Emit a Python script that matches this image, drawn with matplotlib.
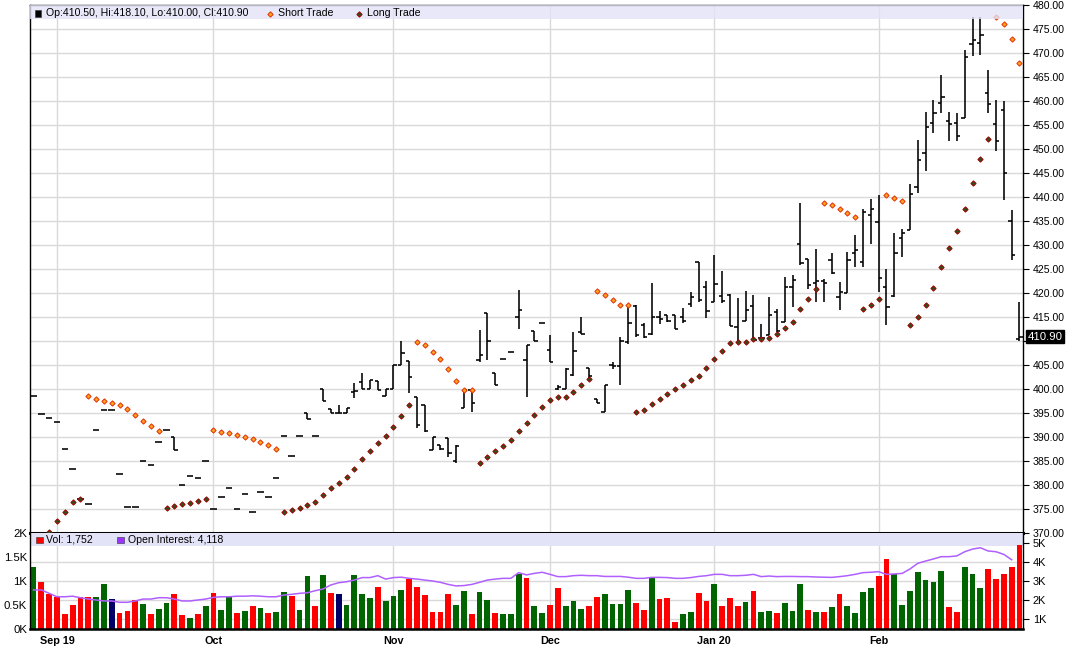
import numpy as np
import matplotlib
matplotlib.use("Agg")
import matplotlib.pyplot as plt
from matplotlib.patches import Rectangle
from matplotlib.lines import Line2D

plt.rcParams['font.family'] = ['Liberation Sans', 'DejaVu Sans']

# ---------------- data ----------------
month_labels = ["Sep 19", "Oct", "Nov", "Dec", "Jan 20", "Feb"]
month_start_idx = [3, 23, 46, 66, 87, 108]

opens = [398.5, 394.7, 394.0, 393.1, 387.4, 383.3, 377.0, 376.1, 391.5, 395.6,
         395.6, 382.3, 375.5, 375.4, 385.1, 384.2, 388.9, 391.5, 390.1, 380.1,
         381.9, 381.5, 385.1, 375.1, 377.5, 379.3, 375.1, 378.1, 374.3, 378.5,
         377.5, 381.5, 390.3, 386.0, 390.3, 394.9, 390.3, 399.9, 395.8, 395.1,
         395.1, 399.3, 401.5, 400.0, 401.7, 398.5, 399.9, 405.0, 405.8, 398.4,
         396.7, 387.3, 388.3, 389.7, 384.9, 396.0, 399.8, 406.0, 415.9, 403.3,
         406.2, 407.7, 415.1, 406.0, 412.1, 413.7, 408.1, 399.9, 400.1, 402.9,
         411.9, 404.3, 398.0, 395.3, 405.0, 404.7, 409.7, 417.3, 413.4, 411.4,
         414.9, 415.4, 415.4, 414.9, 417.7, 426.4, 421.3, 418.2, 419.4, 419.6,
         413.0, 414.2, 417.3, 410.6, 411.2, 416.1, 414.0, 421.3, 430.2, 427.0,
         422.0, 422.4, 426.9, 419.2, 419.9, 428.3, 426.5, 436.2, 434.8, 421.3,
         419.4, 431.4, 433.1, 442.1, 449.1, 455.5, 459.6, 455.9, 455.4, 456.4,
         471.8, 472.0, 461.6, 455.2, 458.1, 434.9, 410.5]
highs = [398.5, 394.7, 394.0, 393.1, 387.4, 383.3, 377.0, 376.1, 391.5, 395.6,
         395.6, 382.3, 375.5, 375.4, 385.1, 384.2, 388.9, 391.5, 390.1, 380.1,
         381.9, 381.5, 385.1, 375.1, 377.5, 379.3, 375.1, 378.1, 374.3, 378.5,
         377.5, 381.5, 390.3, 386.0, 390.3, 394.9, 390.3, 399.9, 395.8, 396.7,
         396.0, 401.2, 403.4, 401.9, 401.7, 400.1, 405.0, 409.9, 405.8, 398.4,
         396.7, 390.1, 388.3, 389.7, 388.3, 399.8, 399.8, 412.3, 415.9, 403.3,
         406.2, 407.7, 420.6, 409.2, 412.1, 413.7, 411.3, 400.8, 404.3, 411.9,
         415.1, 404.3, 398.0, 400.8, 405.7, 410.9, 417.8, 417.5, 413.7, 422.0,
         416.3, 415.4, 415.4, 416.8, 420.3, 426.5, 422.4, 428.0, 424.6, 419.7,
         418.9, 420.4, 419.6, 413.5, 419.2, 416.6, 423.4, 423.8, 438.7, 427.0,
         429.1, 423.0, 428.4, 422.2, 428.6, 432.0, 437.5, 439.6, 440.4, 425.1,
         432.4, 433.3, 442.8, 451.9, 457.8, 460.2, 465.4, 457.8, 457.6, 470.6,
         477.4, 477.4, 466.5, 460.2, 459.9, 437.3, 418.1]
lows = [398.5, 394.7, 394.0, 393.1, 387.4, 383.3, 377.0, 376.1, 391.5, 395.6,
        395.6, 382.3, 375.5, 375.4, 385.1, 384.2, 388.9, 391.5, 387.2, 380.1,
        381.9, 381.5, 385.1, 375.1, 377.5, 379.3, 375.1, 378.1, 374.3, 378.5,
        377.5, 381.5, 390.3, 386.0, 390.3, 393.7, 390.3, 397.4, 395.1, 394.9,
        395.1, 398.1, 400.1, 400.0, 399.8, 398.5, 399.9, 405.0, 399.1, 391.8,
        391.1, 387.3, 387.3, 385.9, 384.5, 396.0, 395.3, 405.7, 406.0, 400.8,
        406.2, 407.7, 412.4, 398.4, 410.0, 413.7, 405.7, 399.7, 400.0, 402.7,
        411.5, 401.9, 397.0, 395.3, 404.1, 400.8, 409.4, 410.9, 410.6, 411.3,
        413.5, 414.0, 412.4, 413.7, 417.0, 418.2, 414.7, 418.1, 418.0, 413.1,
        409.6, 414.2, 410.3, 410.2, 411.2, 411.9, 414.0, 417.1, 425.8, 420.8,
        418.2, 418.2, 423.9, 416.5, 419.9, 425.5, 425.5, 430.3, 420.3, 413.3,
        419.2, 427.6, 433.1, 440.8, 445.5, 453.3, 457.6, 451.7, 451.7, 456.4,
        469.4, 469.6, 457.4, 449.6, 439.4, 426.9, 410.0]
closes = [398.5, 394.7, 394.0, 393.1, 387.4, 383.3, 377.0, 376.1, 391.5, 395.6,
          395.6, 382.3, 375.5, 375.4, 385.1, 384.2, 388.9, 391.5, 387.2, 380.1,
          381.9, 381.5, 385.1, 375.1, 377.5, 379.3, 375.1, 378.1, 374.3, 378.5,
          377.5, 381.5, 390.3, 386.0, 390.3, 393.7, 390.3, 397.4, 395.1, 395.1,
          396.0, 399.6, 400.1, 401.9, 399.8, 400.0, 405.0, 407.6, 402.4, 392.4,
          391.3, 390.1, 387.6, 386.6, 388.2, 399.8, 397.0, 407.0, 409.9, 400.8,
          406.2, 407.7, 416.5, 409.2, 410.0, 413.7, 405.7, 400.5, 404.1, 407.9,
          411.5, 402.7, 397.0, 400.8, 404.7, 409.9, 413.7, 411.3, 410.8, 414.9,
          414.5, 414.2, 412.6, 414.2, 419.2, 418.5, 416.3, 421.9, 418.3, 413.1,
          409.8, 416.5, 410.3, 410.6, 415.4, 412.0, 421.3, 422.7, 426.2, 421.7,
          422.4, 422.0, 424.1, 420.3, 426.9, 429.0, 436.9, 437.6, 423.2, 417.1,
          428.3, 432.4, 440.6, 447.7, 454.6, 457.6, 460.9, 455.2, 452.7, 469.1,
          472.7, 473.8, 459.3, 451.7, 444.9, 427.9, 410.9]

# trade markers: (first bar index, consecutive values)
short_trade_segments = [
    (7, [398.5, 397.85, 397.4, 397.0, 396.6, 395.8, 394.65, 393.4, 392.3, 391.25]),
    (23, [391.5, 391.1, 390.8, 390.5, 390.1, 389.5, 388.9, 388.3, 387.6]),
    (49, [409.7, 409.2, 407.8, 406.2, 404.2, 401.7, 399.8, 399.8]),
    (72, [420.5, 419.6, 418.5, 417.6, 417.5]),
    (101, [438.7, 438.3, 437.5, 436.7, 435.9]),
    (109, [440.35, 439.7, 439.2]),
    (123, [477.4, 476.0, 473.0, 468.0]),
]
long_trade_segments = [
    (2, [370.3, 372.5, 374.4, 376.5, 377.0]),
    (17, [375.3, 375.7, 376.1, 376.3, 376.7, 377.0]),
    (32, [374.3, 374.7, 375.2, 375.9, 376.5, 377.85, 379.3, 380.5, 381.7, 383.3,
          385.4, 387.1, 388.7, 390.2, 392.0, 394.4, 396.6]),
    (57, [384.65, 385.8, 387.0, 388.2, 389.4, 391.2, 393.0, 394.6, 396.3, 397.7,
          398.3, 398.3, 399.4, 400.8, 402.0]),
    (77, [395.3, 395.6, 396.9, 397.85, 398.9, 399.9, 400.9, 401.9, 402.8, 404.4,
          406.2, 408.0, 409.5, 409.7, 409.7, 410.35, 410.35, 410.55, 411.4, 412.8,
          414.0, 416.6, 418.75, 420.8]),
    (106, [416.6, 417.6, 418.8]),
    (112, [413.3, 415.0, 417.6, 421.0, 425.4, 429.3, 432.9, 437.5, 443.0, 447.85,
           452.1]),
]

# volume in thousands, colour code per bar (G up, R down, N unchanged)
volume_k = [1.29, 0.98, 0.72, 0.67, 0.31, 0.49, 0.67, 0.67, 0.67, 0.93,
            0.62, 0.34, 0.38, 0.60, 0.52, 0.31, 0.42, 0.54, 0.72, 0.29,
            0.23, 0.31, 0.48, 0.74, 0.40, 0.67, 0.33, 0.38, 0.48, 0.44,
            0.33, 0.36, 0.78, 0.69, 0.40, 1.10, 0.48, 1.12, 0.74, 0.72,
            0.50, 1.12, 0.72, 0.64, 0.87, 0.58, 0.69, 0.81, 1.05, 0.87,
            0.71, 0.36, 0.36, 0.73, 0.50, 0.80, 0.31, 0.78, 0.60, 0.34,
            0.32, 0.32, 1.15, 1.07, 0.47, 0.34, 0.50, 0.85, 0.47, 0.58,
            0.42, 0.47, 0.67, 0.72, 0.52, 0.52, 0.81, 0.55, 0.40, 1.07,
            0.63, 0.64, 0.14, 0.31, 0.36, 0.74, 0.58, 0.93, 0.48, 0.65,
            0.47, 0.57, 0.79, 0.36, 0.38, 0.33, 0.54, 0.38, 0.93, 0.40,
            0.36, 0.35, 0.45, 0.72, 0.47, 0.34, 0.78, 0.85, 1.10, 1.46,
            1.15, 0.50, 0.80, 1.19, 1.02, 0.98, 1.21, 0.45, 0.36, 1.29,
            1.15, 0.85, 1.24, 1.04, 1.15, 1.29, 1.752]
volume_dir = ("GRRRRRRRGG" "NRRRGRGGRR" "GRGRGGRGRG" "RGGRGGRGRN" "GGGGRGGGRR"
              "RRRRGGRGGR" "GGGRGGRRGG" "GRRGGGGRRG" "RRRGGRRGRR" "RGRGGRGGGR"
              "GRGRGGGGRR" "GGGGGGGRRG" "GGRRRRR")

open_interest_k = [2.53, 2.53, 2.35, 2.17, 2.17, 2.20, 2.12, 2.05, 2.00, 1.95,
                   1.95, 1.88, 1.88, 1.95, 2.05, 2.05, 2.12, 2.12, 2.05, 1.95,
                   1.95, 2.00, 2.05, 2.14, 2.17, 2.17, 2.20, 2.20, 2.22, 2.20,
                   2.17, 2.17, 2.26, 2.30, 2.35, 2.38, 2.49, 2.58, 2.79, 2.91,
                   2.96, 3.05, 3.18, 3.18, 3.28, 3.10, 3.18, 3.20, 3.14, 3.10,
                   3.05, 3.00, 2.93, 2.82, 2.74, 2.76, 2.82, 2.93, 3.05, 3.10,
                   3.14, 3.14, 3.44, 3.32, 3.40, 3.46, 3.35, 3.23, 3.23, 3.28,
                   3.30, 3.28, 3.28, 3.24, 3.24, 3.24, 3.20, 3.14, 3.14, 3.19,
                   3.19, 3.18, 3.14, 3.14, 3.18, 3.24, 3.28, 3.35, 3.35, 3.28,
                   3.28, 3.30, 3.35, 3.23, 3.26, 3.23, 3.24, 3.24, 3.23, 3.23,
                   3.21, 3.20, 3.19, 3.23, 3.28, 3.35, 3.44, 3.46, 3.49, 3.35,
                   3.37, 3.40, 3.63, 3.93, 4.05, 4.16, 4.28, 4.28, 4.32, 4.54,
                   4.68, 4.75, 4.58, 4.54, 4.40, 4.118]

legend_ohlc = "Op:410.50, Hi:418.10, Lo:410.00, Cl:410.90"
legend_vol = "Vol: 1,752"
legend_oi = "Open Interest: 4,118"
last_price = 410.90

# ---------------- styling ----------------
W, H = 1079, 650
FS = 7.6
BAND = '#e3e3f7'
GRID = '#d9d9d9'
SHORT_FACE, SHORT_EDGE = '#ffa31a', '#e0300a'
LONG_FACE, LONG_EDGE = '#2f4f1a', '#a00000'
VCOL = {'G': '#006400', 'R': '#ff0000', 'N': '#000066'}

fig = plt.figure(figsize=(W / 100, H / 100), dpi=100)
fig.patch.set_facecolor('white')


def px_rect(l, t, r, b):
    return [l / W, 1 - b / H, (r - l) / W, (b - t) / H]


ax = fig.add_axes(px_rect(30, 5, 1023, 533))
axv = fig.add_axes(px_rect(30, 533, 1023, 629), sharex=ax)

n = len(closes)
x = np.arange(n)
o = np.array(opens); h = np.array(highs); l = np.array(lows); c = np.array(closes)

# ---- price panel ----
ax.set_xlim(-0.45, n - 0.55)
ax.set_ylim(370, 480)
ax.set_axisbelow(True)
yt = np.arange(370, 481, 5)
ax.set_yticks(yt)
ax.set_yticklabels(['' if abs(v - 410) < 0.01 else f'{v:.2f}' for v in yt])
ax.yaxis.tick_right()
ax.tick_params(axis='y', direction='out', length=4, width=0.8, pad=3,
               labelsize=FS, colors='black')
ax.tick_params(axis='x', length=0, labelbottom=False)
ax.grid(axis='y', color=GRID, lw=1)
for m in month_start_idx:
    ax.axvline(m, color=GRID, lw=1, zorder=0)
for s in ax.spines.values():
    s.set_color('black'); s.set_linewidth(1)
ax.spines['bottom'].set_linewidth(2.2)

tk = 0.42
ax.vlines(x, l, h, color='black', lw=1.15, zorder=3)
ax.hlines(o, x - tk, x, color='black', lw=1.15, zorder=3)
ax.hlines(c, x, x + tk, color='black', lw=1.15, zorder=3)

for start, vals in short_trade_segments:
    xs = np.arange(start, start + len(vals))
    ax.plot(xs, vals, ls='none', marker='D', ms=2.7, mfc=SHORT_FACE,
            mec=SHORT_EDGE, mew=0.7, zorder=4)
for start, vals in long_trade_segments:
    xs = np.arange(start, start + len(vals))
    ax.plot(xs, vals, ls='none', marker='D', ms=2.7, mfc=LONG_FACE,
            mec=LONG_EDGE, mew=0.7, zorder=4)

# legend band (drawn over data, semi-transparent)
ax.add_patch(Rectangle((0, 1 - 14 / 528), 1, 14 / 528, transform=ax.transAxes,
                       facecolor=BAND, edgecolor='none', alpha=0.8, zorder=6))

# last price box
ax.text(1.0045, last_price, f'{last_price:.2f}',
        transform=ax.get_yaxis_transform(), color='white', fontsize=FS + 0.6,
        va='center', ha='left', zorder=10, clip_on=False,
        bbox=dict(boxstyle='square,pad=0.15', facecolor='black', edgecolor='black'))


def ftext(px, py, s, **kw):
    fig.text(px / W, 1 - py / H, s, fontsize=FS, va='center', ha='left', **kw)


def fsquare(px, py, size, color):
    fig.add_artist(Rectangle((px / W, 1 - (py + size / 2) / H), size / W, size / H,
                             transform=fig.transFigure, facecolor=color,
                             edgecolor='#333333', lw=0.4, zorder=20))


def fdiamond(px, py, face, edge):
    fig.add_artist(Line2D([px / W], [1 - py / H], transform=fig.transFigure,
                          marker='D', ms=2.7, mfc=face, mec=edge, mew=0.7,
                          ls='none', zorder=20))


fsquare(35, 13.5, 6.5, 'black')
ftext(46, 13.5, legend_ohlc, zorder=20)
fdiamond(270, 13.5, SHORT_FACE, SHORT_EDGE)
ftext(278, 13.5, 'Short Trade', zorder=20)
fdiamond(359, 13.5, LONG_FACE, LONG_EDGE)
ftext(367, 13.5, 'Long Trade', zorder=20)

# ---- volume panel ----
axv.set_ylim(0, 2.0)
axv.set_yticks([0, 0.5, 1.0, 1.5, 2.0])
axv.set_yticklabels(['0K', '0.5K', '1K', '1.5K', '2K'])
axv.tick_params(axis='y', direction='out', length=0, pad=2, labelsize=FS + 0.6)
axv.set_xticks(month_start_idx)
axv.set_xticklabels(month_labels, fontweight='bold')
axv.tick_params(axis='x', length=0, pad=5, labelsize=FS + 0.2)
for s in axv.spines.values():
    s.set_color('black'); s.set_linewidth(1)
axv.spines['bottom'].set_linewidth(1.8)
axv.spines['top'].set_visible(False)

oi_lo, oi_hi = 0.474, 5.526
for k in [1, 2, 3, 4, 5]:
    f = (k - oi_lo) / (oi_hi - oi_lo)
    axv.plot([0, 1], [f, f], transform=axv.transAxes, color=GRID, lw=1, zorder=0)
for m in month_start_idx:
    axv.axvline(m, color=GRID, lw=1, zorder=0)
axv.add_patch(Rectangle((0, 1 - 13 / 96), 1, 13 / 96, transform=axv.transAxes,
                        facecolor=BAND, edgecolor='none', zorder=0.5))

axv.bar(x, volume_k, width=0.74, color=[VCOL[d] for d in volume_dir],
        edgecolor='none', zorder=2)

axo = axv.twinx()
axo.set_ylim(oi_lo, oi_hi)
axo.set_yticks([1, 2, 3, 4, 5])
axo.set_yticklabels(['1K', '2K', '3K', '4K', '5K'])
axo.tick_params(axis='y', direction='out', length=4, width=0.8, pad=3,
                labelsize=FS + 0.3)
for s in axo.spines.values():
    s.set_visible(False)
axo.plot(np.arange(len(open_interest_k)), open_interest_k, color='#b060ff',
         lw=1.1, zorder=3)

fsquare(36, 540, 6.5, '#ff0000')
ftext(46, 540, legend_vol, zorder=20)
fsquare(117, 540, 6.5, '#9933ff')
ftext(128, 540, legend_oi, zorder=20)

fig.savefig('out.png', dpi=100, facecolor='white')
